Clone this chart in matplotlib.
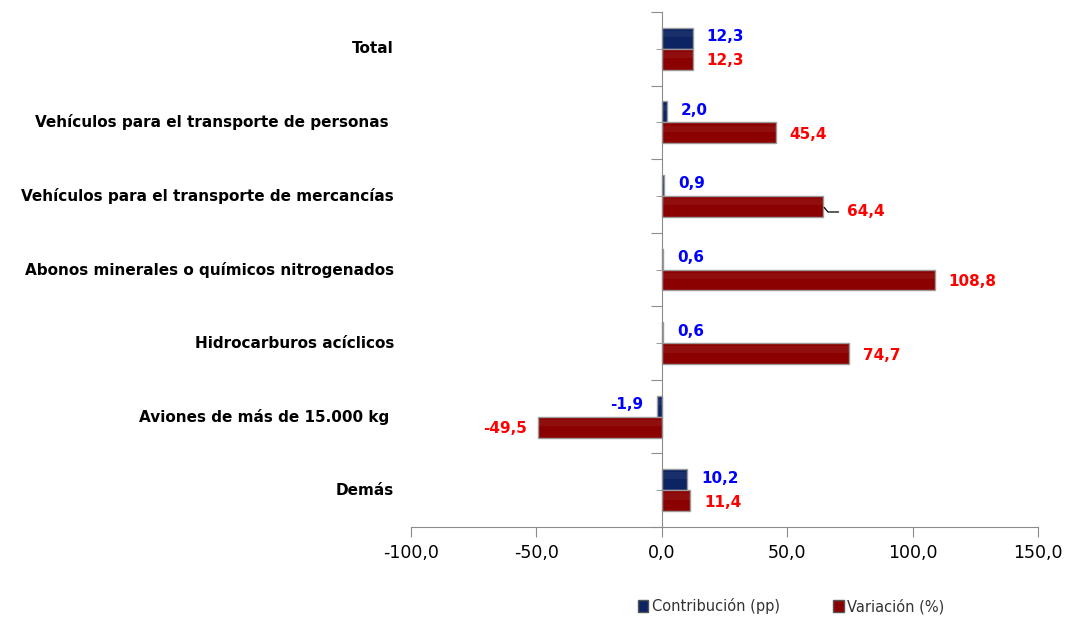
import matplotlib
matplotlib.use("Agg")
import matplotlib.pyplot as plt
import numpy as np
from matplotlib.patches import Patch

categories = ["Total",
              "Vehículos para el transporte de personas ",
              "Vehículos para el transporte de mercancías",
              "Abonos minerales o químicos nitrogenados",
              "Hidrocarburos acíclicos",
              "Aviones de más de 15.000 kg ",
              "Demás"]
contribucion = [12.3, 2.0, 0.9, 0.6, 0.6, -1.9, 10.2]
variacion = [12.3, 45.4, 64.4, 108.8, 74.7, -49.5, 11.4]
xticks = [-100, -50, 0, 50, 100, 150]

def fmt(v):
    return f"{v:.1f}".replace(".", ",")

fig = plt.figure(figsize=(10.66, 6.19), dpi=100)
ax = fig.add_axes([0.3856, 0.1486, 0.5881, 0.8320])

n = len(categories)
ypos = np.arange(n)[::-1]  # Total on top
h = 0.285
navy = "#0C2462"
dred = "#8B0000"
edge = "#9A9A9A"

ax.barh(ypos + h / 2, contribucion, height=h, color=navy, edgecolor=edge, linewidth=1.0, zorder=3)
ax.barh(ypos - h / 2, variacion, height=h, color=dred, edgecolor=edge, linewidth=1.0, zorder=3)
# soft glossy highlight
ax.barh(ypos + h / 2 + h * 0.2, contribucion, height=h * 0.3, color="white", alpha=0.06,
        linewidth=0, zorder=3.5)
ax.barh(ypos - h / 2 + h * 0.2, variacion, height=h * 0.3, color="white", alpha=0.06,
        linewidth=0, zorder=3.5)

ax.set_xlim(-100, 150)
ax.set_ylim(-0.5, n - 0.5)

for sp in ["top", "right"]:
    ax.spines[sp].set_visible(False)
ax.spines["left"].set_position(("data", 0))
ax.spines["left"].set_color("#8C8C8C")
ax.spines["bottom"].set_color("#8C8C8C")
ax.spines["left"].set_zorder(4)

ax.set_xticks(xticks)
ax.set_xticklabels([fmt(v) for v in xticks], fontsize=12.5, color="black")
ax.tick_params(axis="x", direction="out", length=7, color="#8C8C8C", pad=5)
ax.set_yticks(np.arange(-0.5, n, 1.0))
ax.set_yticks(np.arange(0, n, 1.0), minor=True)
ax.tick_params(axis="y", which="major", direction="out", length=8, color="#8C8C8C", labelleft=False)
ax.tick_params(axis="y", which="minor", direction="out", length=4, color="#8C8C8C", labelleft=False)

trans = matplotlib.transforms.blended_transform_factory(ax.transAxes, ax.transData)
for y, c in zip(ypos, categories):
    ax.text(-0.027, y, c, transform=trans, ha="right", va="center",
            fontsize=11, fontweight="bold", color="black")

for y, v in zip(ypos, contribucion):
    off = 10 if v >= 0 else -10
    ax.annotate(fmt(v), xy=(v, y + h / 2 + 0.02), xytext=(off, 0), textcoords="offset points",
                ha="left" if v >= 0 else "right", va="center",
                fontsize=11, fontweight="bold", color="#0000FF")

for i, (y, v) in enumerate(zip(ypos, variacion)):
    if i == 2:
        ax.annotate(fmt(v), xy=(v, y - h / 2), xytext=(17, -4), textcoords="offset points",
                    ha="left", va="center", fontsize=11, fontweight="bold", color="#FF0000",
                    arrowprops=dict(arrowstyle="-", color="black", lw=0.9, shrinkA=4, shrinkB=1,
                                    relpos=(0, 0.5),
                                    connectionstyle="angle,angleA=0,angleB=130,rad=0"))
        continue
    off = 10 if v >= 0 else -8
    ax.annotate(fmt(v), xy=(v, y - h / 2 - 0.02), xytext=(off, 0), textcoords="offset points",
                ha="left" if v >= 0 else "right", va="center",
                fontsize=11, fontweight="bold", color="#FF0000")

handles = [Patch(facecolor=navy, edgecolor="#555555", label="Contribución (pp)"),
           Patch(facecolor=dred, edgecolor="#555555", label="Variación (%)")]
fig.legend(handles=handles, loc="center", bbox_to_anchor=(0.742, 0.021), ncol=2,
           frameon=False, fontsize=10.5, handlelength=0.75, handleheight=0.8,
           handletextpad=0.25, columnspacing=3.6, labelcolor="#333333",
           borderpad=0, borderaxespad=0)

fig.savefig("out.png", dpi=100)
